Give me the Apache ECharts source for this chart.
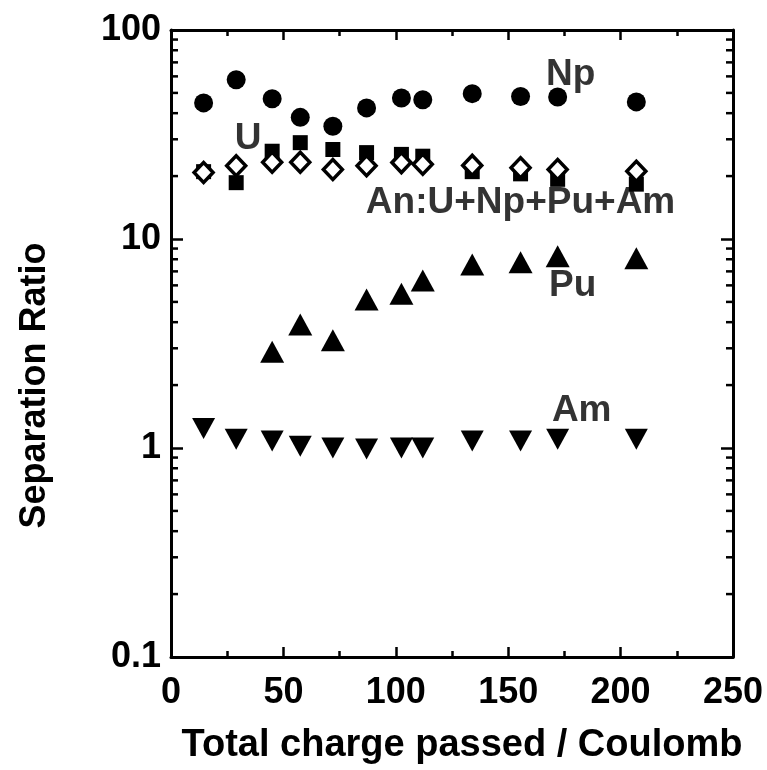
<!DOCTYPE html>
<html>
<head>
<meta charset="utf-8">
<script src="https://cdn.jsdelivr.net/npm/echarts@6/dist/echarts.min.js"></script>
<style>html,body{margin:0;padding:0;background:#fff;}#c{width:767px;height:770px;}</style>
</head>
<body>
<div id="c"></div>
<script>
// Total charge passed (Coulomb) at each sampling point
const charge = [14.5, 29, 45, 57.5, 72, 87, 102.5, 112, 134, 155.5, 172, 207];
// Separation ratios
const npRatio = [44.8, 57.8, 46.9, 38.2, 34.6, 42.4, 47.3, 46.4, 49.6, 48.1, 47.8, 45.3];
const uRatio  = [21.0, 18.6, 26.3, 28.9, 26.8, 25.9, 25.4, 24.9, 21.0, 20.5, 19.3, 18.3];
const anRatio = [20.8, 22.4, 23.3, 23.3, 21.5, 22.4, 23.2, 22.8, 22.5, 21.9, 21.5, 21.1];
const puRatio = [null, null, 2.89, 3.90, 3.28, 5.14, 5.47, 6.33, 7.55, 7.75, 8.27, 8.09];
const amRatio = [1.24, 1.10, 1.08, 1.02, 1.00, 0.99, 1.00, 1.00, 1.08, 1.08, 1.10, 1.10];
// Series annotations placed in data coordinates
const annotations = [
  { text: 'Np', x: 177.8, y: 61 },
  { text: 'U', x: 34.3, y: 30.3 },
  { text: 'An:U+Np+Pu+Am', x: 155.5, y: 14.9 },
  { text: 'Pu', x: 178.7, y: 6.0 },
  { text: 'Am', x: 182.7, y: 1.5 }
];
// Axis ticks
const xTicks = [0, 50, 100, 150, 200, 250];
const yTicks = [0.1, 1, 10, 100];
const yMinorTicks = [];
[0.1, 1, 10].forEach(d => { for (let k = 2; k <= 9; k++) yMinorTicks.push(+(d * k).toPrecision(3)); });

function pairs(ys) {
  const out = [];
  ys.forEach((v, i) => { if (v !== null) out.push([charge[i], v]); });
  return out;
}

const FONT = 'Liberation Sans';
const chart = echarts.init(document.getElementById('c'), null, { renderer: 'canvas' });

const axisLine = { show: true, onZero: false, lineStyle: { color: '#000', width: 3 } };
const xCommon = {
  type: 'value', min: xTicks[0], max: xTicks[xTicks.length - 1], interval: 50,
  axisLine: axisLine, splitLine: { show: false },
  axisTick: { show: true, inside: true, length: 10, lineStyle: { color: '#000', width: 2.5 } },
  minorTick: { show: true, splitNumber: 2, length: 6, lineStyle: { color: '#000', width: 2.5 } }
};
const yCommon = {
  type: 'log', logBase: 10, min: yTicks[0], max: yTicks[yTicks.length - 1],
  axisLine: axisLine, splitLine: { show: false },
  axisTick: { show: true, inside: true, length: 12, lineStyle: { color: '#000', width: 2.5 } },
  minorTick: { show: false }
};
const solid = (c, extra) => Object.assign({ color: c, opacity: 1 }, extra || {});

chart.setOption({
  animation: false,
  backgroundColor: '#fff',
  textStyle: { fontFamily: FONT },
  grid: { left: 171, right: 34, top: 30, bottom: 108 },
  xAxis: [
    Object.assign({}, xCommon, {
      position: 'bottom',
      name: 'Total charge passed / Coulomb', nameLocation: 'middle', nameGap: 70,
      nameTextStyle: { fontFamily: FONT, fontWeight: 'bold', fontSize: 38, color: '#000', padding: [0, 0, 0, 20] },
      axisLabel: { show: true, margin: 18, fontFamily: FONT, fontWeight: 'bold', fontSize: 36, color: '#000',
        formatter: v => String(v) }
    }),
    Object.assign({}, xCommon, { position: 'top', axisLabel: { show: false } })
  ],
  yAxis: [
    Object.assign({}, yCommon, {
      position: 'left',
      name: 'Separation Ratio', nameLocation: 'middle', nameGap: 118, nameRotate: 90,
      nameTextStyle: { fontFamily: FONT, fontWeight: 'bold', fontSize: 36, color: '#000', padding: [0, 84, 0, 0] },
      axisLabel: { show: true, margin: 10, fontFamily: FONT, fontWeight: 'bold', fontSize: 36, color: '#000',
        formatter: v => (v < 1 ? v.toFixed(1) : String(Math.round(v))) }
    }),
    Object.assign({}, yCommon, { position: 'right', axisLabel: { show: false } })
  ],
  series: [
    {
      type: 'custom', name: 'yMinorTicks', silent: true, z: 1,
      data: yMinorTicks.map(v => [xTicks[0], v]),
      renderItem: function (params, api) {
        const cs = params.coordSys;
        const y = api.coord([api.value(0), api.value(1)])[1];
        const st = { stroke: '#000', lineWidth: 2.5 };
        return { type: 'group', children: [
          { type: 'line', shape: { x1: cs.x, y1: y, x2: cs.x + 7, y2: y }, style: st },
          { type: 'line', shape: { x1: cs.x + cs.width, y1: y, x2: cs.x + cs.width - 7, y2: y }, style: st }
        ] };
      }
    },
    { type: 'scatter', name: 'U', data: pairs(uRatio), symbol: 'rect', symbolSize: 15,
      itemStyle: solid('#000'), z: 2 },
    { type: 'scatter', name: 'An', data: pairs(anRatio), symbol: 'diamond', symbolSize: [19, 20],
      itemStyle: solid('#fff', { borderColor: '#000', borderWidth: 3.5 }), z: 3 },
    { type: 'scatter', name: 'Np', data: pairs(npRatio), symbol: 'circle', symbolSize: 19,
      itemStyle: solid('#000'), z: 3 },
    { type: 'scatter', name: 'Pu', data: pairs(puRatio), symbol: 'triangle', symbolSize: [24, 22],
      itemStyle: solid('#000'), z: 3 },
    { type: 'scatter', name: 'Am', data: pairs(amRatio), symbol: 'triangle', symbolRotate: 180, symbolSize: [23, 21],
      itemStyle: solid('#000'), z: 3 },
    { type: 'scatter', name: 'labels', silent: true, symbolSize: 0, z: 4,
      data: annotations.map(a => ({ value: [a.x, a.y], name: a.text })),
      label: { show: true, position: 'inside', formatter: p => p.name,
        fontFamily: FONT, fontWeight: 'bold', fontSize: 37, color: '#000' } }
  ]
});
</script>
</body>
</html>
